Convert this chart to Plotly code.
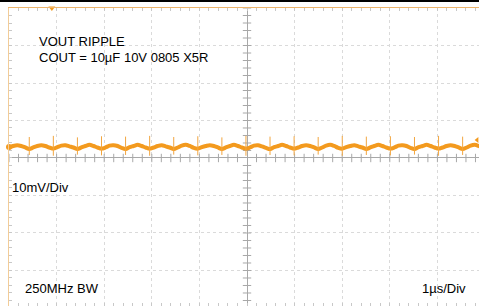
import plotly.graph_objects as go

# ---- data (time in µs, voltage in mV, 1 µs/div, 10 mV/div) ----
t_start_us = -5.08
dt_us = 0.0843  # sample step (1/6 of a switching period)

# ripple trace values, 6 samples per switching cycle (cycle starts at spike / valley)
vout_mv = [
    2.5, 2.8, 3.2, 3.4, 3.2, 2.8,
    2.4, 2.8, 3.2, 3.4, 3.2, 2.8,
    2.5, 2.9, 3.3, 3.4, 3.1, 2.8,
    2.4, 2.8, 3.2, 3.5, 3.2, 2.8,
    2.5, 2.8, 3.3, 3.4, 3.2, 2.7,
    2.4, 2.9, 3.2, 3.5, 3.2, 2.8,
    2.5, 2.8, 3.2, 3.4, 3.1, 2.8,
    2.4, 2.8, 3.3, 3.5, 3.2, 2.7,
    2.5, 2.9, 3.2, 3.4, 3.2, 2.8,
    2.4, 2.8, 3.2, 3.5, 3.2, 2.8,
    2.5, 2.8, 3.3, 3.4, 3.1, 2.7,
    2.4, 2.9, 3.2, 3.5, 3.2, 2.8,
    2.5, 2.8, 3.2, 3.4, 3.2, 2.8,
    2.4, 2.8, 3.3, 3.5, 3.2, 2.7,
    2.5, 2.9, 3.2, 3.4, 3.1, 2.8,
    2.4, 2.8, 3.2, 3.5, 3.2, 2.8,
    2.5, 2.8, 3.3, 3.4, 3.2, 2.7,
    2.4, 2.9, 3.2, 3.5, 3.2, 2.8,
    2.5, 2.8, 3.2, 3.4, 3.2, 2.8,
    2.4, 2.8, 3.3, 3.5, 3.2, 2.7,
    2.5,
]

# switching spikes: one per cycle (at each cycle start), high and low excursions in mV
spike_high_mv = [5.6, 5.9, 5.5, 5.8, 5.7, 5.9, 5.6, 5.8, 5.5, 5.9, 5.7, 5.8, 5.6, 5.9, 5.7, 5.8, 5.6, 5.9, 5.7]
spike_low_mv = [0.8, 0.6, 0.9, 0.7, 0.8, 0.6, 0.9, 0.7, 0.8, 0.6, 0.8, 0.7, 0.9, 0.6, 0.8, 0.7, 0.9, 0.6, 0.8]

ch1_offset_mv = 2.9
trigger_time_us = -4.1
trigger_level_mv = 4.8

x_range = [-5.0, 4.874]
y_range = [-39.47, 40.0]
time_per_div_us = 1.0
volt_per_div_mv = 10.0
minor_per_div = 5

labels_top = ["VOUT RIPPLE", "COUT = 10µF 10V 0805 X5R"]
label_vdiv = "10mV/Div"
label_bw = "250MHz BW"
label_tdiv = "1µs/Div"

# ---- build ----
t_us = [t_start_us + i * dt_us for i in range(len(vout_mv))]

spike_x, spike_y = [], []
for k, (hi, lo) in enumerate(zip(spike_high_mv, spike_low_mv)):
    ts = t_us[6 * (k + 1)]
    spike_x += [ts, ts, None]
    spike_y += [lo, hi, None]

# graticule minor tick positions along the centre cross
mx = time_per_div_us / minor_per_div
my = volt_per_div_mv / minor_per_div
cross_tx = [i * mx for i in range(-25, 25) if i != 0]
cross_ty = [j * my for j in range(-20, 21) if j != 0]

ORANGE = "#F39A1E"
SPIKE = "#F2A640"
BORDER_TOP = "#EDB46A"
BORDER_LEFT = "#F2CC98"
CROSS = "#A8A8A8"
GRID = "#DADADA"
EDGE_TICK = "#C8C8C8"

fig = go.Figure()
fig.add_trace(go.Scatter(x=cross_tx, y=[0] * len(cross_tx), mode="markers", hoverinfo="skip",
                         marker=dict(symbol="line-ns", size=6, line=dict(color=CROSS, width=1)),
                         showlegend=False))
fig.add_trace(go.Scatter(x=[0] * len(cross_ty), y=cross_ty, mode="markers", hoverinfo="skip",
                         marker=dict(symbol="line-ew", size=6, line=dict(color=CROSS, width=1)),
                         showlegend=False))
fig.add_trace(go.Scatter(x=t_us, y=vout_mv, mode="lines", line_shape="spline",
                         line=dict(color=ORANGE, width=4), showlegend=False))
fig.add_trace(go.Scatter(x=spike_x, y=spike_y, mode="lines",
                         line=dict(color=SPIKE, width=1), hoverinfo="skip", showlegend=False))
fig.add_trace(go.Scatter(x=[x_range[0]], y=[ch1_offset_mv], mode="markers", cliponaxis=False,
                         marker=dict(symbol="circle", size=6, color=ORANGE), showlegend=False))
fig.add_trace(go.Scatter(x=[trigger_time_us], y=[y_range[1]], mode="markers", cliponaxis=False,
                         marker=dict(symbol="triangle-down", size=6, color=ORANGE), showlegend=False))
fig.add_trace(go.Scatter(x=[x_range[1] - 0.04], y=[trigger_level_mv], mode="markers", cliponaxis=False,
                         marker=dict(symbol="triangle-left", size=5, color=ORANGE), showlegend=False))

W, H = 479, 306
ml, mr, mt, mb = 9, 0, 8, 0
pw, ph = W - ml - mr, H - mt - mb

fig.update_layout(
    width=W, height=H, margin=dict(l=ml, r=mr, t=mt, b=mb),
    paper_bgcolor="white", plot_bgcolor="white",
    font=dict(family="Liberation Sans, Arial, sans-serif", size=13, color="black"),
    xaxis=dict(range=x_range, showgrid=True, gridcolor=GRID, griddash="dot", gridwidth=1,
               dtick=time_per_div_us, tick0=0, showticklabels=False, side="top",
               zeroline=True, zerolinecolor=CROSS, zerolinewidth=1,
               showline=True, linecolor=BORDER_TOP, linewidth=1, mirror="ticks",
               ticks="inside", ticklen=3, tickcolor=EDGE_TICK,
               minor=dict(dtick=mx, ticks="inside", ticklen=3, tickcolor=EDGE_TICK, showgrid=False)),
    yaxis=dict(range=y_range, showgrid=True, gridcolor=GRID, griddash="dot", gridwidth=1,
               dtick=volt_per_div_mv, tick0=0, showticklabels=False,
               zeroline=True, zerolinecolor=CROSS, zerolinewidth=1,
               showline=True, linecolor=BORDER_LEFT, linewidth=1, mirror=False,
               ticks="inside", ticklen=3, tickcolor=EDGE_TICK,
               minor=dict(dtick=my, ticks="inside", ticklen=3, tickcolor=EDGE_TICK, showgrid=False)),
    hovermode=False,
)

def px_to_paper(px, py):
    return (px - ml) / pw, (H - mb - py) / ph

annots = [
    (labels_top[0], 37, 42, "left"),
    (labels_top[1], 37, 57, "left"),
    (label_vdiv, 10, 187, "left"),
    (label_bw, 23, 288, "left"),
    (label_tdiv, 468, 288, "right"),
]
for text, px, py, anc in annots:
    ax, ay = px_to_paper(px, py)
    fig.add_annotation(text=text, x=ax, y=ay, xref="paper", yref="paper",
                       xanchor=anc, yanchor="middle", showarrow=False,
                       font=dict(size=13, color="black"))

# black frame line along the very top of the picture
fig.add_shape(type="line", xref="paper", yref="paper", x0=-ml / pw, x1=1,
              y0=(H - mb - 1) / ph, y1=(H - mb - 1) / ph, line=dict(color="black", width=2))

fig.write_html("out.html", config={"displayModeBar": False},
               post_script=("document.body.style.margin='0';document.body.style.overflow='hidden';"
                            "document.documentElement.style.overflow='hidden';"))
